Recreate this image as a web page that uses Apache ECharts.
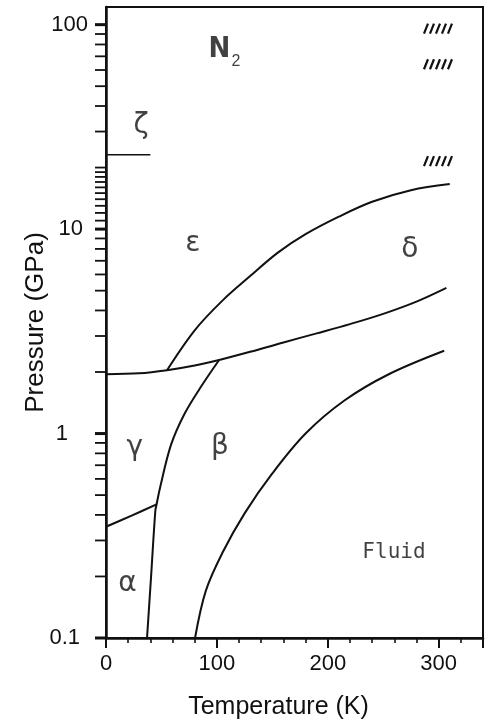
<!DOCTYPE html>
<html>
<head>
<meta charset="utf-8">
<title>Nitrogen phase diagram</title>
<script src="https://cdn.jsdelivr.net/npm/echarts@6/dist/echarts.min.js"></script>
<style>
  html, body { margin: 0; padding: 0; background: #fff; }
  #chart { width: 492px; height: 725px; }
</style>
</head>
<body>
<div id="chart"></div>
<script>
// Phase boundaries of solid N2: [temperature K, pressure GPa]
const gammaEpsilonDeltaLine = [[0, 1.95], [30, 1.97], [55, 2.04], [80, 2.15], [102, 2.29], [130, 2.51], [160, 2.79], [190, 3.09], [220, 3.43], [250, 3.85], [280, 4.42], [307, 5.16]];
const epsilonDeltaLine = [[55, 2.04], [80, 3.20], [105, 4.47], [130, 5.89], [155, 7.67], [180, 9.44], [210, 11.5], [240, 13.6], [275, 15.5], [310, 16.6]];
const betaLine = [[37, 0.1], [40.6, 0.198], [44.5, 0.42], [45.6, 0.45], [48.8, 0.545], [58.6, 0.88], [70.5, 1.24], [84.9, 1.67], [102, 2.29]];
const alphaGammaLine = [[0, 0.35], [23.1, 0.397], [45.6, 0.45]];
const meltingLine = [[80.3, 0.1], [90, 0.17], [105, 0.261], [125, 0.407], [150, 0.638], [180, 1.0], [215, 1.45], [255, 1.95], [305, 2.54]];
const zetaLine = [[0, 23.1], [40, 23.1]];

// Phase names and where they sit
const phaseNames = ['ζ', 'ε', 'δ', 'γ', 'β', 'α'];
const phaseT = [31.6, 78.4, 274, 26, 102.8, 19.4];
const phaseP = [31.9, 8.5, 7.9, 0.85, 0.86, 0.184];

// Hatched marks near room temperature
const hatchT = [299.4, 299.4, 299.4];
const hatchP = [95.7, 64, 21.5];

// Axis ticks
const xMin = 0, xMax = 340, xStep = 100;
const yMin = 0.1, yMax = 122;
const yMajorTicks = [0.1, 1, 10, 100];
const yMinorTicks = [0.2, 0.3, 0.4, 0.5, 0.6, 0.7, 0.8, 0.9,
                     2, 3, 4, 5, 6, 7, 8, 9,
                     11, 12, 13, 14, 15, 16, 17, 18, 19,
                     20, 30, 40, 50, 60, 70, 80, 90];

const INK = '#111';
const SANS = '"Liberation Sans", Arial, sans-serif';

const tickData = yMajorTicks.map(v => [0, v, 1]).concat(yMinorTicks.map(v => [0, v, 0]));

function lineSeries(data, width) {
  return {
    type: 'line', data: data, showSymbol: false, smooth: 0.35,
    lineStyle: { color: INK, width: width || 2 }, silent: true, z: 3
  };
}

function pressureLabel(v) {
  const e = Math.round(Math.log10(v));
  if (Math.abs(Math.log10(v) - e) > 1e-6) return '';
  const key = { '-1': 'a', '0': 'b', '1': 'c', '2': 'd' }[String(e)];
  if (!key) return '';
  const txt = e < 0 ? '0.1' : String(Math.pow(10, e));
  return '{' + key + '|' + txt + '}';
}

const labelFont = { fontSize: 22, fontFamily: SANS, color: INK };

const chart = echarts.init(document.getElementById('chart'));
chart.setOption({
  animation: false,
  backgroundColor: '#fff',
  grid: { left: 106, right: 9, top: 7, bottom: 84, show: true, borderColor: INK, borderWidth: 2, backgroundColor: 'transparent' },
  xAxis: {
    type: 'value', min: xMin, max: xMax, interval: xStep,
    name: 'Temperature (K)', nameLocation: 'middle', nameGap: 57, nameMoveOverlap: false,
    nameTextStyle: { fontSize: 25, fontFamily: SANS, color: INK, padding: [0, 32, 0, 0] },
    axisLine: { lineStyle: { color: INK, width: 2.5 } },
    axisTick: { show: true, inside: false, length: 10, lineStyle: { color: INK, width: 2 } },
    minorTick: { show: true, splitNumber: 5, length: 5, lineStyle: { color: INK, width: 1.6 } },
    axisLabel: Object.assign({ margin: 15, showMaxLabel: false }, labelFont),
    splitLine: { show: false }
  },
  yAxis: {
    type: 'log', logBase: 10, min: yMin, max: yMax,
    name: 'Pressure (GPa)', nameLocation: 'middle', nameGap: 57, nameMoveOverlap: false,
    nameTextStyle: { fontSize: 26, fontFamily: SANS, color: INK },
    axisLine: { lineStyle: { color: INK, width: 2.5 } },
    axisTick: { show: false },
    axisLabel: {
      margin: 18, showMaxLabel: false, formatter: pressureLabel,
      rich: {
        a: Object.assign({ padding: [0, 8, 0, 0] }, labelFont),
        b: Object.assign({ padding: [0, 20, 0, 0] }, labelFont),
        c: Object.assign({ padding: [0, 5, 0, 0] }, labelFont),
        d: Object.assign({ padding: [0, 0, 0, 0] }, labelFont)
      }
    },
    splitLine: { show: false }
  },
  series: [
    lineSeries(gammaEpsilonDeltaLine),
    lineSeries(epsilonDeltaLine),
    lineSeries(betaLine),
    lineSeries(alphaGammaLine),
    lineSeries(meltingLine),
    Object.assign(lineSeries(zetaLine, 1.6), { smooth: false }),
    {
      // tick marks of the pressure axis (decades plus intermediate values)
      type: 'custom', silent: true, clip: false, z: 4,
      encode: { x: 0, y: 1 },
      data: tickData,
      renderItem: function (params, api) {
        const p = api.coord([0, api.value(1)]);
        const major = api.value(2) === 1;
        return {
          type: 'line',
          shape: { x1: p[0] - 11, y1: p[1], x2: p[0], y2: p[1] },
          style: { stroke: INK, lineWidth: major ? 3 : 1.8 }
        };
      }
    },
    {
      // short hatch strokes
      type: 'custom', silent: true, z: 4,
      encode: { x: 0, y: 1 },
      data: hatchT.map((t, i) => [t, hatchP[i]]),
      renderItem: function (params, api) {
        const c = api.coord([api.value(0), api.value(1)]);
        const children = [];
        for (let k = -2; k <= 2; k++) {
          const cx = c[0] + k * 6;
          children.push({
            type: 'line',
            shape: { x1: cx - 2, y1: c[1] + 5, x2: cx + 2, y2: c[1] - 5 },
            style: { stroke: INK, lineWidth: 2.2 }
          });
        }
        return { type: 'group', children: children };
      }
    },
    {
      // phase names
      type: 'scatter', silent: true, symbolSize: 0, z: 5,
      data: phaseNames.map((n, i) => ({ name: n, value: [phaseT[i], phaseP[i]] })),
      label: {
        show: true, position: 'inside', formatter: '{b}',
        fontSize: 28, fontFamily: '"DejaVu Sans", sans-serif', color: INK
      }
    },
    {
      type: 'scatter', silent: true, symbolSize: 0, z: 5,
      data: [
        { name: 'N', value: [102.3, 75.7], label: { fontSize: 29, fontWeight: 'bold', fontFamily: '"DejaVu Sans Condensed", "Liberation Sans Narrow", sans-serif' } },
        { name: '2', value: [117.2, 65.8], label: { fontSize: 16, fontFamily: SANS } },
        { name: 'Fluid', value: [259.7, 0.262], label: { fontSize: 21, fontFamily: '"DejaVu Sans Mono", "Liberation Mono", monospace' } }
      ],
      label: { show: true, position: 'inside', formatter: '{b}', color: INK }
    }
  ]
});
</script>
</body>
</html>
